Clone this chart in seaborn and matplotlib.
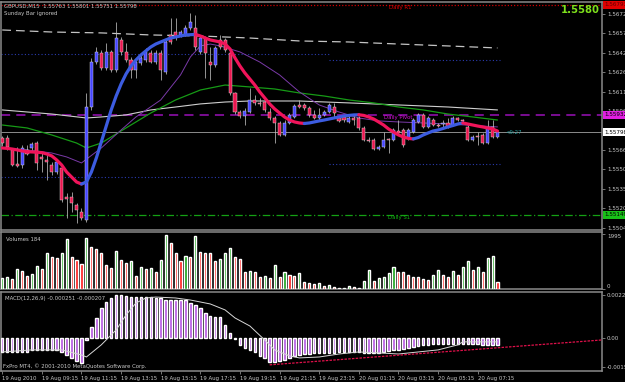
#!/usr/bin/env python3
"""
GBPUSD M15 chart in MetaTrader style: candles with moving averages and
daily pivot levels, plus Volumes and MACD sub-windows. Saves out.png.
"""

import numpy as np
import matplotlib
matplotlib.use("Agg")
import matplotlib.pyplot as plt
from matplotlib.transforms import blended_transform_factory
import seaborn as sns

# --------------------------------------------------------------------
# DATA  (prices in points, 1 point = 0.00001)
# --------------------------------------------------------------------

OPEN = [155751, 155751, 155658, 155548, 155540, 155658, 155673, 155712, 155603, 155579,
        155540, 155485, 155517, 155290, 155290, 155227, 155172, 155109, 155994, 156346,
        156417, 156300, 156425, 156284, 156519, 156425, 156362, 156284, 156339, 156362,
        156417, 156346, 156417, 156268, 156558, 156581, 156558, 156558, 156613, 156613,
        156425, 156534, 156346, 156323, 156519, 156519, 156417, 156104, 155955, 155924,
        155955, 156049, 156026, 156033, 155955, 155908, 155869, 155775, 155869, 155916,
        156010, 156010, 155986, 155932, 155908, 155932, 155955, 155994, 155908, 155916,
        155877, 155908, 155908, 155830, 155736, 155736, 155665, 155681, 155744, 155736,
        155806, 155814, 155751, 155798, 155877, 155932, 155838, 155892, 155853, 155861,
        155869, 155853, 155908, 155892, 155838, 155736, 155767, 155775, 155712, 155838,
        155763]
CLOSE = [155712, 155681, 155540, 155532, 155673, 155626, 155704, 155556, 155587, 155564,
         155485, 155564, 155266, 155274, 155243, 155188, 155125, 155994, 156346, 156425,
         156300, 156425, 156284, 156534, 156425, 156362, 156284, 156346, 156378, 156425,
         156346, 156417, 156284, 156503, 156503, 156542, 156581, 156613, 156660, 156464,
         156534, 156417, 156323, 156456, 156464, 156440, 156104, 155955, 155924, 155963,
         156049, 156026, 156018, 155971, 155908, 155869, 155775, 155869, 155932, 156002,
         155994, 155986, 155932, 155908, 155932, 155955, 156010, 155947, 155885, 155892,
         155908, 155892, 155830, 155736, 155728, 155665, 155681, 155736, 155736, 155814,
         155791, 155697, 155814, 155892, 155932, 155838, 155908, 155853, 155845, 155869,
         155838, 155908, 155892, 155885, 155736, 155759, 155759, 155712, 155830, 155759,
         155798]
HIGH = [155767, 155775, 155673, 155681, 155697, 155697, 155720, 155728, 155642, 155618,
        155564, 155579, 155540, 155321, 155329, 155243, 155203, 156104, 156378, 156464,
        156440, 156495, 156440, 156660, 156542, 156495, 156386, 156378, 156401, 156456,
        156440, 156440, 156440, 156519, 156691, 156691, 156597, 156636, 156730, 156715,
        156558, 156550, 156464, 156472, 156558, 156534, 156440, 156112, 155971, 155986,
        156143, 156088, 156065, 156049, 155986, 155924, 155885, 155892, 155947, 156018,
        156049, 156026, 156002, 155971, 155986, 155971, 156026, 156026, 155924, 155924,
        155924, 155924, 155924, 155845, 155759, 155751, 155697, 155798, 155751, 155830,
        155892, 155830, 155830, 155908, 155947, 155947, 155924, 155908, 155869, 155892,
        155908, 155924, 155916, 155900, 155853, 155775, 155798, 155791, 155892, 155892,
        155801]
LOW = [155689, 155658, 155532, 155524, 155517, 155618, 155658, 155501, 155485, 155423,
       155462, 155470, 155250, 155125, 155172, 155086, 155109, 155094, 155971, 156331,
       156284, 156284, 156268, 156268, 156401, 156346, 156221, 156221, 156323, 156346,
       156339, 156331, 156206, 156253, 156487, 156519, 156542, 156550, 156597, 156440,
       156409, 156221, 156206, 156307, 156448, 156425, 156088, 155939, 155908, 155853,
       155947, 156010, 156002, 155955, 155892, 155712, 155767, 155767, 155861, 155908,
       155986, 155971, 155916, 155900, 155892, 155924, 155947, 155916, 155877, 155877,
       155869, 155853, 155814, 155728, 155720, 155658, 155658, 155673, 155634, 155728,
       155783, 155681, 155736, 155791, 155869, 155830, 155830, 155845, 155838, 155838,
       155830, 155845, 155885, 155877, 155728, 155728, 155697, 155704, 155704, 155751,
       155751]

# colour-changing hull average, one value per bar
HMA = [155673, 155670, 155665, 155658, 155650, 155644, 155642, 155640, 155637, 155626,
       155611, 155579, 155540, 155485, 155446, 155407, 155391, 155407, 155485, 155595,
       155720, 155845, 155971, 156080, 156174, 156253, 156315, 156362, 156401, 156433,
       156464, 156487, 156503, 156519, 156534, 156542, 156550, 156558, 156560, 156562,
       156550, 156534, 156519, 156511, 156503, 156487, 156448, 156378, 156315, 156260,
       156213, 156166, 156112, 156065, 156018, 155979, 155947, 155916, 155892, 155877,
       155869, 155865, 155869, 155877, 155885, 155892, 155900, 155908, 155916, 155924,
       155928, 155932, 155933, 155928, 155916, 155900, 155877, 155853, 155822, 155798,
       155775, 155759, 155748, 155744, 155755, 155775, 155791, 155806, 155814, 155826,
       155838, 155849, 155861, 155869, 155861, 155853, 155845, 155838, 155830, 155822,
       155806]

# thin moving averages, read at a few bars
MA_LONG_IDX = [0, 10, 20, 30, 40, 50, 60, 70, 80, 90, 100]
MA_LONG = [156597, 156581, 156574, 156558, 156550, 156534, 156511, 156503, 156487, 156472, 156456]

MA_SILVER_IDX = [0, 10, 17, 20, 25, 30, 35, 40, 45, 50, 60, 70, 80, 90, 100]
MA_SILVER = [155971, 155939, 155908, 155916, 155932, 155971, 155994, 156018, 156033, 156041,
             156041, 156026, 156010, 155994, 155971]

MA_GREEN_IDX = [0, 5, 10, 15, 17, 20, 25, 30, 35, 40, 45, 50, 55, 60, 65, 70, 75, 80, 85, 90, 95, 100]
MA_GREEN = [155853, 155830, 155775, 155712, 155673, 155712, 155830, 155947, 156049, 156127, 156166,
            156151, 156135, 156104, 156080, 156049, 156026, 155994, 155971, 155939, 155916, 155892]

MA_PURPLE_IDX = [0, 5, 10, 13, 16, 20, 24, 27, 32, 36, 38, 40, 42, 44, 48, 52, 56, 60, 64, 68,
                 72, 76, 80, 90, 100]
MA_PURPLE = [155673, 155658, 155634, 155603, 155556, 155673, 155814, 155916, 156049, 156245,
             156386, 156472, 156487, 156472, 156425, 156346, 156245, 156112, 156010, 155955,
             155908, 155885, 155877, 155861, 155838]

# daily levels
DAILY_R1 = 156793
DAILY_PIVOT = 155932
DAILY_S1 = 155149
DAY_SPLIT = 66
NAVY_HI = [156409, 156362]
NAVY_LO = [155446, 155548]
LAST_PRICE = 155798

# 1.55810 sits under the last-price box, so it is left out
PRICE_TICKS = [156720, 156570, 156420, 156265, 156115, 155965, 155660,
               155505, 155350, 155200, 155045]

VOLUME = [396, 420, 360, 720, 648, 468, 540, 828, 720, 1296, 1152, 1116, 1296, 1800, 1152,
          1044, 900, 1836, 1512, 1440, 1296, 864, 756, 1368, 1044, 936, 1008, 468, 792, 720,
          756, 612, 1044, 1944, 1656, 1296, 1008, 1188, 1150, 1908, 1332, 1296, 1290, 1008,
          1080, 1296, 1476, 1152, 1080, 612, 648, 612, 432, 468, 396, 864, 432, 612, 504, 468,
          576, 252, 216, 180, 216, 108, 144, 72, 36, 54, 108, 72, 54, 288, 684, 288, 396, 420,
          576, 792, 612, 600, 504, 432, 420, 360, 324, 500, 700, 500, 450, 650, 500, 800,
          1000, 700, 800, 600, 1100, 1200, 250]

MACD_HIST = [-0.00075, -0.00075, -0.00075, -0.00075, -0.00075, -0.00075, -0.00064, -0.00064,
             -0.00064, -0.00064, -0.00064, -0.00064, -0.00075, -0.00091, -0.00107, -0.00123,
             -0.00134, -0.00010, 0.00059, 0.00107, 0.00160, 0.00190, 0.00214, 0.00230, 0.00230,
             0.00225, 0.00220, 0.00220, 0.00220, 0.00220, 0.00220, 0.00214, 0.00214, 0.00203,
             0.00203, 0.00203, 0.00203, 0.00203, 0.00187, 0.00177, 0.00160, 0.00134, 0.00118,
             0.00112, 0.00112, 0.00070, 0.00027, -0.00005, -0.00037, -0.00054, -0.00064,
             -0.00075, -0.00096, -0.00107, -0.00128, -0.00128, -0.00123, -0.00118, -0.00107,
             -0.00096, -0.00091, -0.00086, -0.00086, -0.00080, -0.00080, -0.00080, -0.00078,
             -0.00078, -0.00075, -0.00075, -0.00075, -0.00075, -0.00075, -0.00078, -0.00080,
             -0.00080, -0.00078, -0.00075, -0.00070, -0.00067, -0.00064, -0.00060, -0.00054,
             -0.00050, -0.00043, -0.00040, -0.00037, -0.00035, -0.00034, -0.00033, -0.00032,
             -0.00032, -0.00032, -0.00032, -0.00034, -0.00035, -0.00035, -0.00037, -0.00037,
             -0.00037, -0.00037]

MACD_LINE_IDX = [0, 6, 12, 16, 17, 20, 23, 25, 27, 29, 31, 35, 38, 42, 45, 47, 50, 53, 55, 58,
                 60, 64, 68, 72, 76, 80, 84, 88, 92, 93, 100]
MACD_LINE = [-0.00075, -0.00064, -0.00064, -0.00091, -0.00102, -0.00037, 0.00043, 0.00123,
             0.00187, 0.00214, 0.00219, 0.00214, 0.00203, 0.00182, 0.00150, 0.00107, 0.00064,
             -0.00011, -0.00064, -0.00096, -0.00107, -0.00102, -0.00086, -0.00075, -0.00080,
             -0.00086, -0.00075, -0.00064, -0.00037, -0.00021, -0.00021]

MACD_TREND_IDX = [54, 121]
MACD_TREND = [-0.00144, -0.00011]

TIME_TICKS = [0, 8, 16, 24, 32, 40, 48, 56, 64, 72, 80, 88, 96]
TIME_LABELS = ["19 Aug 2010", "19 Aug 09:15", "19 Aug 11:15", "19 Aug 13:15", "19 Aug 15:15",
               "19 Aug 17:15", "19 Aug 19:15", "19 Aug 21:15", "19 Aug 23:15", "20 Aug 01:15",
               "20 Aug 03:15", "20 Aug 05:15", "20 Aug 07:15"]

# --------------------------------------------------------------------
# STYLE
# --------------------------------------------------------------------

W, H = 625, 382
XLIM = (-0.25, 121.1)
GRID_GRAY = "#8a8a8a"
TEXT = "#c8c8c8"
BULL = "#4646ff"
BEAR = "#ea1750"
HMA_UP = "#3c5ce0"
HMA_DN = "#f0145a"
SMALL = 3.9

sns.set_theme(style="dark", rc={"axes.facecolor": "black", "figure.facecolor": "black"})
plt.rcParams["font.family"] = ["DejaVu Sans"]


def pts(values):
    return np.asarray(values, dtype=float)


def base_axis(fig, top, bottom):
    ax = fig.add_axes([1 / W, 1 - bottom / H, 601 / W, (bottom - top) / H])
    ax.set_facecolor("black")
    for sp in ax.spines.values():
        sp.set_color(GRID_GRAY)
        sp.set_linewidth(1.1)
    ax.grid(False)
    ax.set_xlim(*XLIM)
    ax.yaxis.tick_right()
    ax.tick_params(axis="y", which="both", direction="out", length=2, width=0.6,
                   color=GRID_GRAY, labelcolor=TEXT, labelsize=4.1, pad=1.5,
                   left=False, right=True, labelleft=False, labelright=True)
    ax.tick_params(axis="x", bottom=False, labelbottom=False)
    return ax


def axis_box(ax, value, text, fc, tc="black"):
    tr = blended_transform_factory(ax.transAxes, ax.transData)
    ax.text(1.004, value, text, transform=tr, fontsize=4.1, color=tc, ha="left", va="center",
            bbox=dict(boxstyle="square,pad=0.25", fc=fc, ec="none"), zorder=10, clip_on=False)


# --------------------------------------------------------------------
# PRICE PANEL
# --------------------------------------------------------------------

def plot_price(ax):
    idx = np.arange(len(OPEN))
    o, c, h, l = pts(OPEN), pts(CLOSE), pts(HIGH), pts(LOW)
    level_tr = blended_transform_factory(ax.transAxes, ax.transData)

    # levels
    ax.axhline(DAILY_R1, color="#d00000", lw=0.9, ls=(0, (1, 1.5)), zorder=1)
    ax.axhline(DAILY_PIVOT, color="#9a10b8", lw=1.1, ls=(0, (6, 4)), zorder=1)
    ax.axhline(DAILY_S1, color="#14a014", lw=0.9, ls=(0, (6, 2, 1, 2)), zorder=1)
    ax.axhline(LAST_PRICE, color="#8c8c8c", lw=0.7, zorder=1)
    for vals in (NAVY_HI, NAVY_LO):
        ax.hlines(vals[0], XLIM[0], DAY_SPLIT, color="#2a3cb0", lw=0.8, ls=(0, (1, 2)), zorder=1)
        ax.hlines(vals[1], DAY_SPLIT, 100.5, color="#2a3cb0", lw=0.8, ls=(0, (1, 2)), zorder=1)

    # thin moving averages
    sns.lineplot(x=MA_LONG_IDX, y=MA_LONG, ax=ax, color="#c4c4c4", linewidth=0.9,
                 linestyle=(0, (7, 4)), estimator=None, sort=False, zorder=2)
    sns.lineplot(x=MA_SILVER_IDX, y=MA_SILVER, ax=ax, color="#cfcfcf", linewidth=0.8,
                 estimator=None, sort=False, zorder=2)
    sns.lineplot(x=MA_GREEN_IDX, y=MA_GREEN, ax=ax, color="#169a16", linewidth=0.9,
                 estimator=None, sort=False, zorder=2)
    sns.lineplot(x=MA_PURPLE_IDX, y=MA_PURPLE, ax=ax, color="#7a3aa8", linewidth=0.7,
                 estimator=None, sort=False, zorder=2)

    # candles
    bull = c >= o
    ax.vlines(idx, l, h, color="#bdbdbd", lw=0.55, zorder=3)
    ax.bar(idx, np.maximum(np.abs(c - o), 3), bottom=np.minimum(o, c), width=0.62,
           color=np.where(bull, BULL, BEAR), edgecolor="#e4e4e4", linewidth=0.3, zorder=4)

    # hull average, blue while rising and red while falling
    hma = pts(HMA)
    up = np.diff(hma) > 0
    start = 0
    for k in range(1, len(up) + 1):
        if k == len(up) or up[k] != up[start]:
            seg = slice(start, k + 1)
            sns.lineplot(x=idx[seg], y=hma[seg], ax=ax, color=HMA_UP if up[start] else HMA_DN,
                         linewidth=2.3, estimator=None, sort=False, zorder=5)
            start = k

    ax.set_ylim(155031, 156816)
    ax.set_yticks(PRICE_TICKS)
    ax.set_yticklabels([f"{v / 1e5:.5f}" for v in PRICE_TICKS])
    ax.set_xlabel("")
    ax.set_ylabel("")

    axis_box(ax, DAILY_R1, f"{DAILY_R1 / 1e5:.5f}", "#e00000", "#600000")
    axis_box(ax, DAILY_PIVOT, f"{DAILY_PIVOT / 1e5:.5f}", "#e020e0")
    axis_box(ax, LAST_PRICE, f"{LAST_PRICE / 1e5:.5f}", "white")
    axis_box(ax, DAILY_S1, f"{DAILY_S1 / 1e5:.5f}", "#18c018")

    ax.text(388 / 601, DAILY_R1, "Daily R1", transform=level_tr,
            color="#e00000", fontsize=SMALL, va="top", zorder=6)
    ax.text(383 / 601, DAILY_PIVOT, "Daily Pivot", transform=level_tr,
            color="#d010d0", fontsize=SMALL, va="top", zorder=6)
    ax.text(387 / 601, DAILY_S1, "Daily S1", transform=level_tr,
            color="#10b010", fontsize=SMALL, va="top", zorder=6)
    ax.text(101.5, LAST_PRICE, "<9:27", color="#2aa0a0", fontsize=SMALL, va="center", zorder=6)


# --------------------------------------------------------------------
# VOLUMES PANEL
# --------------------------------------------------------------------

def plot_volume(ax):
    vol = pts(VOLUME)
    # MT4 Volumes: green when volume rose against the previous bar
    colors = ["#12a012" if i > 0 and vol[i] > vol[i - 1] else "#ff1414" for i in range(len(vol))]
    colors[0] = "#12a012"
    ax.bar(np.arange(len(vol)), vol, width=0.42, color=colors, zorder=3)
    ax.set_ylim(0, 2052)
    ax.set_yticks([1995, 0])
    ax.set_yticklabels(["1995", "0"])
    labels = ax.get_yticklabels()
    labels[0].set_va("top")
    labels[1].set_va("bottom")
    ax.text(0.008, 0.92, "Volumes 184", transform=ax.transAxes, color=TEXT, fontsize=SMALL,
            va="top")


# --------------------------------------------------------------------
# MACD PANEL
# --------------------------------------------------------------------

def plot_macd(ax):
    idx = np.arange(len(MACD_HIST))
    ax.bar(idx, MACD_HIST, width=0.5, color="#b452e0", zorder=3)
    sns.lineplot(x=MACD_LINE_IDX, y=MACD_LINE, ax=ax, color="#d8d8d8", linewidth=0.7,
                 estimator=None, sort=False, zorder=4)
    sns.lineplot(x=MACD_TREND_IDX, y=MACD_TREND, ax=ax, color="#e0104a", linewidth=0.9,
                 linestyle=(0, (2, 1)), estimator=None, sort=False, zorder=4)
    ax.set_ylim(-0.00177, 0.00246)
    ax.set_yticks([0.00229, 0.0, -0.00156])
    ax.set_yticklabels(["0.00229", "0.00", "-0.00156"])
    ax.set_xlabel("")
    ax.set_ylabel("")

    ax.set_xticks(TIME_TICKS)
    ax.set_xticklabels(TIME_LABELS)
    ax.tick_params(axis="x", bottom=True, labelbottom=True, direction="out", length=2.5,
                   width=0.6, color=GRID_GRAY, labelcolor=TEXT, labelsize=SMALL, pad=1)
    for lbl in ax.get_xticklabels():
        lbl.set_ha("left")

    ax.text(0.006, 0.95, "MACD(12,26,9) -0.000251 -0.000207", transform=ax.transAxes,
            color=TEXT, fontsize=SMALL, va="top")
    ax.text(0.004, 0.03, "FxPro MT4, \u00a9 2001-2010 MetaQuotes Software Corp.",
            transform=ax.transAxes, color=TEXT, fontsize=SMALL, va="bottom")


# --------------------------------------------------------------------
# MAIN
# --------------------------------------------------------------------

def main():
    fig = plt.figure(figsize=(W / 100, H / 100), dpi=100)
    fig.patch.set_facecolor("black")

    ax_p = base_axis(fig, 2, 230)
    ax_v = base_axis(fig, 232, 289)
    ax_m = base_axis(fig, 292, 371)

    plot_price(ax_p)
    plot_volume(ax_v)
    plot_macd(ax_m)
    for ax in (ax_p, ax_v, ax_m):
        ax.set_xlim(*XLIM)

    fig.text(4 / W, 1 - 6 / H, "GBPUSD,M15  1.55763 1.55801 1.55751 1.55798",
             color=TEXT, fontsize=SMALL, va="center")
    fig.text(4 / W, 1 - 13 / H, "Sunday Bar ignored", color=TEXT, fontsize=SMALL, va="center")
    fig.text(600 / W, 1 - 10 / H, "1.5580", color="#7ee01c", fontsize=7.2,
             fontweight="bold", ha="right", va="center")

    fig.savefig("out.png", dpi=100, facecolor="black")
    plt.close(fig)


if __name__ == "__main__":
    main()
